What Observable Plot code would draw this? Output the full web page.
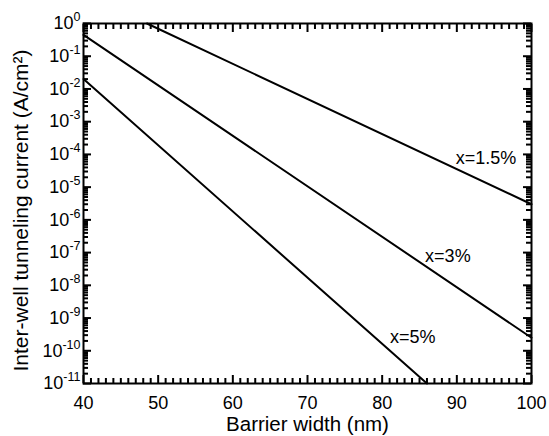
<!DOCTYPE html>
<html><head><meta charset="utf-8">
<script src="https://cdn.jsdelivr.net/npm/d3@7"></script>
<script src="https://cdn.jsdelivr.net/npm/@observablehq/plot@0.6"></script>
<style>html,body{margin:0;padding:0;background:#fff}svg{display:block}</style>
</head><body><div id="chart"></div>
<script>
// Data
const series = ["x=1.5%", "x=3%", "x=5%"];
const barrierWidth = [[48.5, 100], [40, 100], [40, 86]];          // nm (line end points)
const tunnelingCurrent = [[1, 3e-6], [0.45, 2.5e-10], [0.02, 1e-11]]; // A/cm^2
const labelWidth = [93.9, 88.8, 84.1];
const labelCurrent = [7.9e-5, 7.6e-8, 2.6e-10];
const xTicks = [40, 50, 60, 70, 80, 90, 100];
const xMinorTicks = d3.range(40, 101, 1).filter(v => v % 10 !== 0);
const yExponents = [0, -1, -2, -3, -4, -5, -6, -7, -8, -9, -10, -11];
const yTicks = yExponents.map(e => Math.pow(10, e));
const yMinorTicks = yExponents.slice(1).flatMap(e => [2,3,4,5,6,7,8,9].map(k => k * Math.pow(10, e)));

const lineData = series.flatMap((s, i) => barrierWidth[i].map((w, j) => ({series: s, w, c: tunnelingCurrent[i][j]})));
const labelData = series.map((s, i) => ({series: s, w: labelWidth[i], c: labelCurrent[i]}));

const font = "'Liberation Sans', Arial, Helvetica, sans-serif";
const W = 549, H = 436, mL = 83, mR = 18, mT = 23, mB = 53;
const innerW = W - mL - mR, innerH = H - mT - mB;
const MAJ = 8, MIN = 5, TW = 2;
const blank = () => "";

const plot = Plot.plot({
  width: W, height: H,
  marginLeft: mL, marginRight: mR, marginTop: mT, marginBottom: mB,
  style: {fontFamily: font, fontSize: "18px", color: "black", background: "white"},
  x: {domain: [40, 100]},
  y: {type: "log", domain: [1e-11, 1]},
  marks: [
    Plot.frame({stroke: "black", fill: "none", strokeWidth: 2}),
    // inward ticks on all four sides
    Plot.axisX(xMinorTicks, {anchor: "bottom", tickSize: MIN, dy: -MIN, strokeWidth: TW, tickFormat: blank, label: null}),
    Plot.axisX(xTicks, {anchor: "bottom", tickSize: MAJ, dy: -MAJ, strokeWidth: TW, tickFormat: blank, label: null}),
    Plot.axisX(xMinorTicks, {anchor: "top", tickSize: MIN, dy: MIN, strokeWidth: TW, tickFormat: blank, label: null}),
    Plot.axisX(xTicks, {anchor: "top", tickSize: MAJ, dy: MAJ, strokeWidth: TW, tickFormat: blank, label: null}),
    Plot.ruleY(yMinorTicks, {y: d => d, insetRight: innerW - MIN, stroke: "black", strokeWidth: TW}),
    Plot.ruleY(yTicks, {y: d => d, insetRight: innerW - MAJ, stroke: "black", strokeWidth: TW}),
    Plot.ruleY(yMinorTicks, {y: d => d, insetLeft: innerW - MIN, stroke: "black", strokeWidth: TW}),
    Plot.ruleY(yTicks, {y: d => d, insetLeft: innerW - MAJ, stroke: "black", strokeWidth: TW}),
    // tick labels
    Plot.axisX(xTicks, {anchor: "bottom", tickSize: 0, tickPadding: 13, tickFormat: d => String(d), label: null}),
    Plot.axisY(yTicks, {anchor: "left", tickSize: 0, tickPadding: 3, tickFormat: d => "10^" + Math.round(Math.log10(d)), label: null}),
    // axis titles
    Plot.text(["Barrier width (nm)"], {frameAnchor: "bottom", dy: 41, lineAnchor: "middle", textAnchor: "middle", fontSize: 20.5}),
    Plot.text(["Inter-well tunneling current (A/cm²)"], {frameAnchor: "left", dx: -62, dy: 7, rotate: -90, lineAnchor: "middle", textAnchor: "middle", fontSize: 21}),
    Plot.line(lineData, {x: "w", y: "c", z: "series", stroke: "black", strokeWidth: 2}),
    Plot.text(labelData, {x: "w", y: "c", text: "series", fontSize: 18, lineAnchor: "middle"})
  ]
});

// render exponents of the y tick labels as superscripts
d3.select(plot).selectAll("text").each(function() {
  const s = this.textContent;
  if (!s.startsWith("10^")) return;
  const e = s.slice(3);
  const t = d3.select(this);
  t.text("10");
  t.append("tspan").attr("dy", "-8").attr("font-size", "12.5px").text(e);
});

document.getElementById("chart").appendChild(plot);
</script>
</body></html>
